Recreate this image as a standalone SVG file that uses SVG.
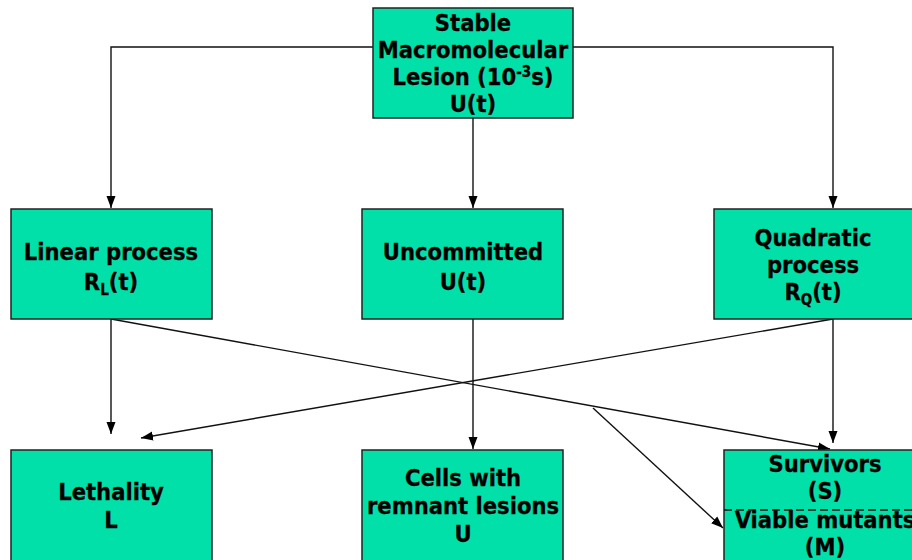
<svg xmlns="http://www.w3.org/2000/svg" width="912" height="560" viewBox="0 0 912 560">
  <style>
    .box { fill: #00E0A8; stroke: #222; stroke-width: 1.5; }
    .lbl { font-family: "DejaVu Sans Condensed", "DejaVu Sans", Verdana, sans-serif; font-stretch: condensed; font-weight: bold; font-size: 23.5px; fill: #000; stroke: #000; stroke-width: 0.3; text-anchor: middle; }
    .sub { font-size: 15px; }
    .wire { fill: none; stroke: #111; stroke-width: 1.4; }
    .divider { stroke: #111; stroke-width: 1.5; stroke-dasharray: 8 4; }
  </style>
  <defs>
    <marker id="arrow" viewBox="0 0 12 10" refX="12" refY="5" markerWidth="12" markerHeight="10" markerUnits="userSpaceOnUse" orient="auto">
      <path d="M0,0.5 L12,5 L0,9.5 Z" fill="#000"/>
    </marker>
  </defs>

  <rect width="912" height="560" fill="#fff"/>

  <!-- connectors -->
  <g id="connectors">
    <polyline class="wire" points="373,47 111,47 111,208" marker-end="url(#arrow)"/>
    <polyline class="wire" points="573,47 833,47 833,208" marker-end="url(#arrow)"/>
    <line class="wire" x1="473" y1="118" x2="473" y2="208" marker-end="url(#arrow)"/>
    <line class="wire" x1="111" y1="319" x2="111" y2="434" marker-end="url(#arrow)"/>
    <line class="wire" x1="473" y1="319" x2="473" y2="449" marker-end="url(#arrow)"/>
    <line class="wire" x1="833" y1="319" x2="833" y2="443" marker-end="url(#arrow)"/>
    <line class="wire" x1="833" y1="319" x2="141" y2="438" marker-end="url(#arrow)"/>
    <line class="wire" x1="111" y1="319" x2="830" y2="449" marker-end="url(#arrow)"/>
    <line class="wire" x1="593" y1="408" x2="723" y2="528" marker-end="url(#arrow)"/>
  </g>

  <g id="lesion">
    <rect class="box" x="373" y="8" width="200" height="110"/>
    <text class="lbl" x="473" y="31">Stable</text>
    <text class="lbl" x="473" y="58">Macromolecular</text>
    <text class="lbl" x="473" y="85">Lesion (10<tspan class="sub" dy="-8">-3</tspan><tspan dy="8">s)</tspan></text>
    <text class="lbl" x="473" y="112">U(t)</text>
  </g>

  <g id="linear">
    <rect class="box" x="11" y="209" width="201" height="110"/>
    <text class="lbl" x="111" y="260">Linear process</text>
    <text class="lbl" x="111" y="290">R<tspan class="sub" dy="5">L</tspan><tspan dy="-5">(t)</tspan></text>
  </g>

  <g id="uncommitted">
    <rect class="box" x="362" y="209" width="201" height="110"/>
    <text class="lbl" x="463" y="260">Uncommitted</text>
    <text class="lbl" x="463" y="290">U(t)</text>
  </g>

  <g id="quadratic">
    <rect class="box" x="714" y="209" width="202" height="110"/>
    <text class="lbl" x="813" y="246">Quadratic</text>
    <text class="lbl" x="813" y="273">process</text>
    <text class="lbl" x="813" y="300">R<tspan class="sub" dy="5">Q</tspan><tspan dy="-5">(t)</tspan></text>
  </g>

  <g id="lethality">
    <rect class="box" x="11" y="450" width="201" height="120"/>
    <text class="lbl" x="111" y="500">Lethality</text>
    <text class="lbl" x="111" y="528">L</text>
  </g>

  <g id="remnant">
    <rect class="box" x="362" y="450" width="201" height="120"/>
    <text class="lbl" x="463" y="486">Cells with</text>
    <text class="lbl" x="463" y="514">remnant lesions</text>
    <text class="lbl" x="463" y="542">U</text>
  </g>

  <g id="survivors">
    <rect class="box" x="724" y="450" width="202" height="120"/>
    <text class="lbl" x="825" y="472">Survivors</text>
    <text class="lbl" x="825" y="499">(S)</text>
    <line class="divider" x1="724" y1="510" x2="912" y2="510"/>
    <text class="lbl" x="825" y="528">Viable mutants</text>
    <text class="lbl" x="825" y="555">(M)</text>
  </g>
</svg>
